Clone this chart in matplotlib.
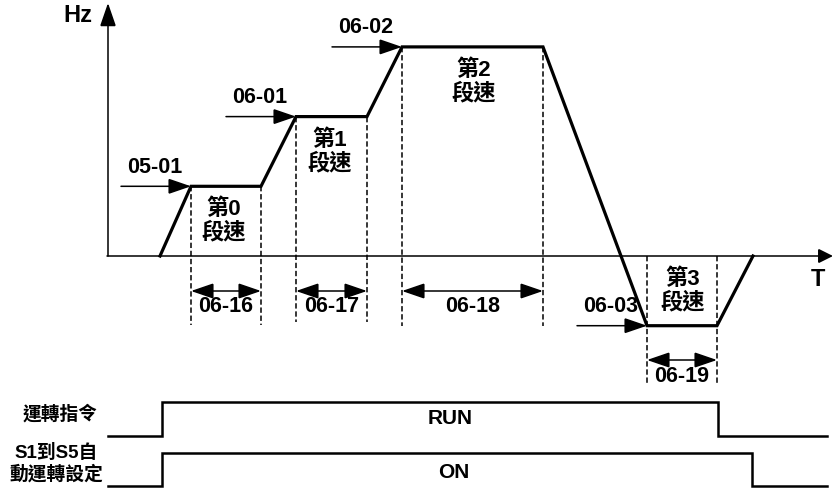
import matplotlib.pyplot as plt
from matplotlib.patches import FancyArrowPatch

plt.rcParams['font.family'] = ['Liberation Sans', 'Noto Sans CJK TC']

# speed profile: time points and frequency step levels
times = [160, 191, 261, 296, 367, 402, 543, 647, 717, 753]
levels = [0, 1, 1, 2, 2, 3, 3, -1, -1, 0]

# frequency reference params (arrow points at the corner)
ref_params = ["05-01", "06-01", "06-02", "06-03"]
ref_times = [191, 296, 402, 647]
ref_levels = [1, 2, 3, -1]

# hold time params per speed step
hold_params = ["06-16", "06-17", "06-18", "06-19"]
hold_start = [191, 296, 402, 647]
hold_end = [261, 367, 543, 717]
hold_levels = [1, 2, 3, -1]
speed_names = ["第0\n段速", "第1\n段速", "第2\n段速", "第3\n段速"]

# digital signals
signal_names = ["運轉指令", "S1到S5自\n動運轉設定"]
signal_text = ["RUN", "ON"]
signal_on = [162, 162]
signal_off = [718, 752]

'''
Layout
'''
y0 = 256      # zero Hz line
step = 69.7   # pixels per speed step


def lv(level):
    return y0 - step * level


fig = plt.figure(figsize=(8.33, 4.88), dpi=100)
ax = fig.add_axes([0, 0, 1, 1])
ax.set_xlim(0, 833)
ax.set_ylim(488, 0)
ax.axis("off")


def arrow(x1, y1, x2, y2, style="-|>", hl=14, hw=4.5, lw=1.1):
    a = FancyArrowPatch((x1, y1), (x2, y2),
                        arrowstyle=f"{style},head_length={hl},head_width={hw}",
                        mutation_scale=1, shrinkA=0, shrinkB=0,
                        color="black", lw=lw, joinstyle="miter")
    ax.add_patch(a)


# axes
arrow(108, y0, 108, 3, hl=14.5, hw=5)
arrow(107, y0, 833, y0, hl=9, hw=4.5)
ax.text(78, 15, "Hz", fontsize=17, fontweight="bold", ha="center", va="center")
ax.text(818, 279, "T", fontsize=17, fontweight="bold", ha="center", va="center")

# speed profile
ax.plot(times, [lv(l) for l in levels], color="black", lw=2.3, solid_joinstyle="miter")

# reference arrows
for name, t, l in zip(ref_params, ref_times, ref_levels):
    arrow(t - 70, lv(l), t, lv(l), hl=14, hw=4.8)
    ax.text(t - 36, lv(l) - 19, name, fontsize=15.5, fontweight="bold",
            ha="center", va="center")

# hold segments
dash_bottom = [325, 322, 326, 383]
arrow_y = [291, 291, 291, 360]
for i in range(4):
    top = lv(max(hold_levels[i], 0))
    for x in (hold_start[i], hold_end[i]):
        ax.plot([x, x], [top, dash_bottom[i]], color="black", lw=1.1,
                dashes=(3.5, 1.8))
    arrow(hold_start[i], arrow_y[i], hold_end[i], arrow_y[i], style="<|-|>",
          hl=14, hw=4.8)
    mid = (hold_start[i] + hold_end[i]) / 2
    ax.text(mid, arrow_y[i] + 16, hold_params[i], fontsize=15.5,
            fontweight="bold", ha="center", va="center")
    ax.text(mid - 2 if i < 2 else mid + 1, top + 35, speed_names[i],
            fontsize=16, fontweight="bold", ha="center", va="center",
            linespacing=1.1)

# digital signals
sig_low = [436, 486]
sig_high = [402, 453]
label_pos = [(60, 414), (56, 464)]
text_pos = [(450, 418), (454, 473)]
for i in range(2):
    xs = [108, signal_on[i], signal_on[i], signal_off[i], signal_off[i], 827]
    ys = [sig_low[i], sig_low[i], sig_high[i], sig_high[i], sig_low[i], sig_low[i]]
    ax.plot(xs, ys, color="black", lw=1.8, solid_joinstyle="miter")
    ax.text(*label_pos[i], signal_names[i], fontsize=13.5, fontweight="bold",
            ha="center", va="center", linespacing=1.2)
    ax.text(*text_pos[i], signal_text[i], fontsize=15, fontweight="bold",
            ha="center", va="center")

fig.savefig("out.png", dpi=100)
